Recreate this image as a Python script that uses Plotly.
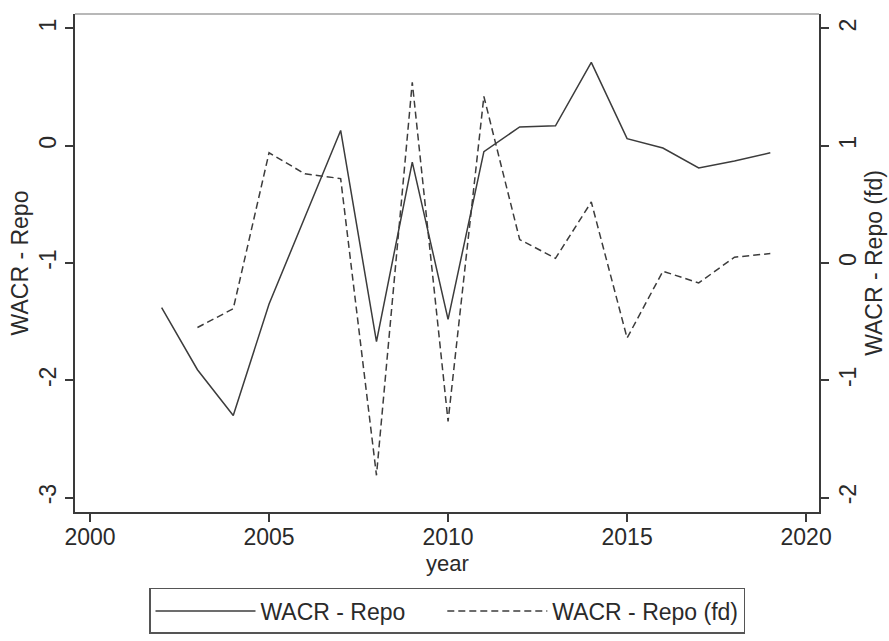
import plotly.graph_objects as go

years_repo = list(range(2002, 2020))
wacr_repo = [-1.38, -1.91, -2.30, -1.35, -0.61, 0.13, -1.67, -0.14, -1.48, -0.05,
             0.16, 0.17, 0.71, 0.06, -0.02, -0.19, -0.13, -0.06]

years_fd = list(range(2003, 2020))
wacr_repo_fd = [-0.55, -0.39, 0.94, 0.76, 0.72, -1.81, 1.54, -1.35, 1.42, 0.20,
                0.04, 0.52, -0.64, -0.07, -0.17, 0.05, 0.08]

x_ticks = [2000, 2005, 2010, 2015, 2020]
y1_ticks = [-3, -2, -1, 0, 1]
y1_labels = ["-3", "-2", "-1", "0", "1"]
y2_ticks = [-2, -1, 0, 1, 2]
y2_labels = ["-2", "-1", "0", "1", "2"]

FONT = "Liberation Sans, Arial, sans-serif"
TXT = "#2a2a2a"
AX = "#3a3a3a"
NBSP = "\u00a0"

fig = go.Figure()
fig.add_trace(go.Scatter(x=years_repo, y=wacr_repo, mode="lines",
                         name="WACR - Repo" + NBSP * 5,
                         line=dict(color="#3c3c3c", width=1.5), yaxis="y"))
fig.add_trace(go.Scatter(x=years_fd, y=wacr_repo_fd, mode="lines", name="WACR - Repo (fd)",
                         line=dict(color="#3c3c3c", width=1.5, dash="7px,4px"), yaxis="y2"))

fig.update_layout(
    width=889, height=641,
    margin=dict(l=75, r=70, t=14, b=129, autoexpand=False),
    paper_bgcolor="white", plot_bgcolor="white",
    font=dict(family=FONT, size=23, color=TXT),
    xaxis=dict(range=[1999.58, 2020.36], tickvals=x_ticks, showgrid=False, zeroline=False,
               showline=True, linecolor=AX, linewidth=1.5, automargin=False,
               ticks="outside", ticklen=8, tickwidth=1.5, tickcolor=AX,
               ticklabelstandoff=-4, tickfont=dict(size=23)),
    yaxis=dict(range=[-3.123, 1.123], tickvals=y1_ticks, ticktext=y1_labels,
               showgrid=False, zeroline=False, automargin=False,
               showline=True, linecolor=AX, linewidth=1.5,
               ticks="outside", ticklen=8, tickwidth=1.5, tickcolor=AX, tickangle=-90,
               title=dict(text="WACR - Repo", standoff=0, font=dict(size=23))),
    yaxis2=dict(range=[-2.123, 2.123], tickvals=y2_ticks, ticktext=y2_labels,
                overlaying="y", side="right", automargin=False,
                showgrid=False, zeroline=False,
                showline=True, linecolor=AX, linewidth=1.5,
                ticks="outside", ticklen=8, tickwidth=1.5, tickcolor=AX, tickangle=-90,
                title=dict(text="WACR - Repo (fd)", standoff=1, font=dict(size=23))),
    legend=dict(orientation="h", x=0.5, xanchor="center", y=-0.1526, yanchor="top",
                bordercolor="#555555", borderwidth=1.5, bgcolor="white",
                font=dict(size=23, color=TXT), itemwidth=100),
    showlegend=True,
    shapes=[dict(type="line", xref="paper", yref="paper", x0=0, x1=1, y0=1, y1=1,
                 line=dict(color="#a0a0a0", width=1.5))],
    annotations=[dict(text="year", xref="paper", yref="paper", x=0.5, y=-0.104,
                      xanchor="center", yanchor="middle", showarrow=False,
                      font=dict(size=22, color=TXT))],
)

fig.write_html("out.html")
